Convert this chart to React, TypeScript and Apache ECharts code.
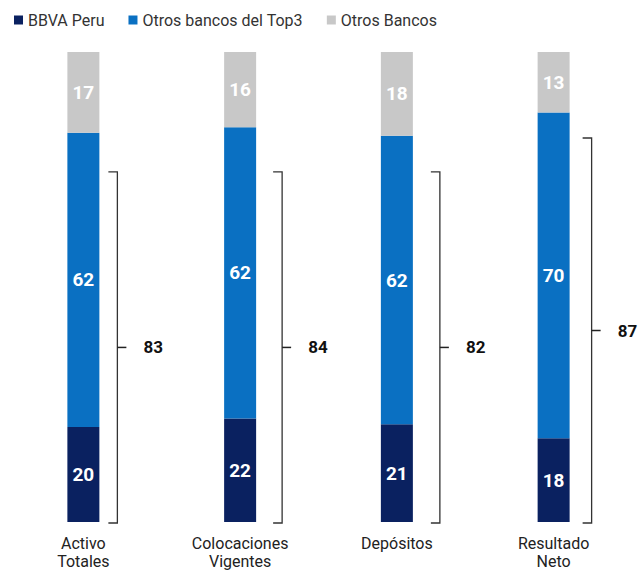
import React, { useEffect, useRef } from "react";
import * as echarts from "echarts";

const categories = ["Activo\nTotales", "Colocaciones\nVigentes", "Depósitos", "Resultado\nNeto"];
const bbvaPeru = [20, 22, 21, 18];
const otrosTop3 = [62, 62, 62, 70];
const otrosBancos = [17, 16, 18, 13];
const bracketTotals = [83, 84, 82, 87];
const bracketTop = [74.5, 74.5, 74.5, 81.7];

const BRACKET_DX = [34, 42, 43, 38];
const COLORS = ["#0a2160", "#0a70c2", "#c8c8c8"];
const FONT = "Roboto, 'Noto Sans', sans-serif";

export default function App() {
  const ref = useRef<HTMLDivElement>(null);
  useEffect(() => {
    if (!ref.current) return;
    const chart = echarts.init(ref.current, null, { renderer: "svg" });
    const sums = bbvaPeru.map((v, i) => v + otrosTop3[i] + otrosBancos[i]);
    const norm = (arr: number[]) => arr.map((v, i) => ({ value: (v / sums[i]) * 100, raw: v }));
    const seriesDefs = [
      { name: "BBVA Peru", data: bbvaPeru, color: COLORS[0] },
      { name: "Otros bancos del Top3", data: otrosTop3, color: COLORS[1] },
      { name: "Otros Bancos", data: otrosBancos, color: COLORS[2] },
    ];
    const bars = seriesDefs.map((s) => ({
      name: s.name,
      type: "bar",
      stack: "total",
      barWidth: 32,
      itemStyle: { color: s.color },
      label: {
        show: true,
        position: "inside",
        color: "#fff",
        fontWeight: "bold",
        fontSize: 19,
        fontFamily: FONT,
        formatter: (p: any) => String(p.data.raw),
      },
      data: norm(s.data),
    }));
    chart.setOption({
      animation: false,
      textStyle: { fontFamily: FONT },
      legend: {
        data: seriesDefs.map((s) => s.name),
        left: 9,
        top: 7,
        icon: "rect",
        itemWidth: 9,
        itemHeight: 9,
        itemGap: 24,
        itemTextGap: 4,
        textStyle: { fontSize: 16, color: "#333", fontFamily: FONT },
      },
      grid: { left: 5, right: 7, top: 52, bottom: 47, containLabel: false },
      xAxis: {
        type: "category",
        data: categories,
        axisLine: { show: false },
        axisTick: { show: false },
        axisLabel: { fontSize: 16, color: "#222", lineHeight: 18, margin: 12, fontFamily: FONT },
      },
      yAxis: { type: "value", min: 0, max: 100, show: false, splitLine: { show: false } },
      series: [
        ...bars,
        {
          type: "custom",
          name: "bracket",
          silent: true,
          encode: { x: 0, y: 1 },
          data: bracketTop.map((t, i) => [i, t, bracketTotals[i]]),
          renderItem: (params: any, api: any) => {
            const idx = api.value(0);
            const top = api.coord([idx, api.value(1)]);
            const bot = api.coord([idx, 0]);
            const x = top[0] + BRACKET_DX[idx];
            const yT = top[1];
            const yB = bot[1] + 1;
            const yM = (yT + yB) / 2;
            return {
              type: "group",
              children: [
                {
                  type: "polyline",
                  shape: { points: [[x - 9, yT], [x, yT], [x, yB], [x - 9, yB]] },
                  style: { stroke: "#333", lineWidth: 1.3, fill: null },
                },
                {
                  type: "line",
                  shape: { x1: x, y1: yM, x2: x + 9, y2: yM },
                  style: { stroke: "#222", lineWidth: 1.5 },
                },
                {
                  type: "text",
                  x: x + 26,
                  y: yM,
                  style: {
                    text: String(api.value(2)),
                    fill: "#111",
                    font: `bold 17px ${FONT}`,
                    verticalAlign: "middle",
                    align: "left",
                  },
                },
              ],
            };
          },
        },
      ],
    });
    return () => chart.dispose();
  }, []);
  return <div ref={ref} style={{ width: 639, height: 570, position: "absolute", left: 0, top: 0 }} />;
}
